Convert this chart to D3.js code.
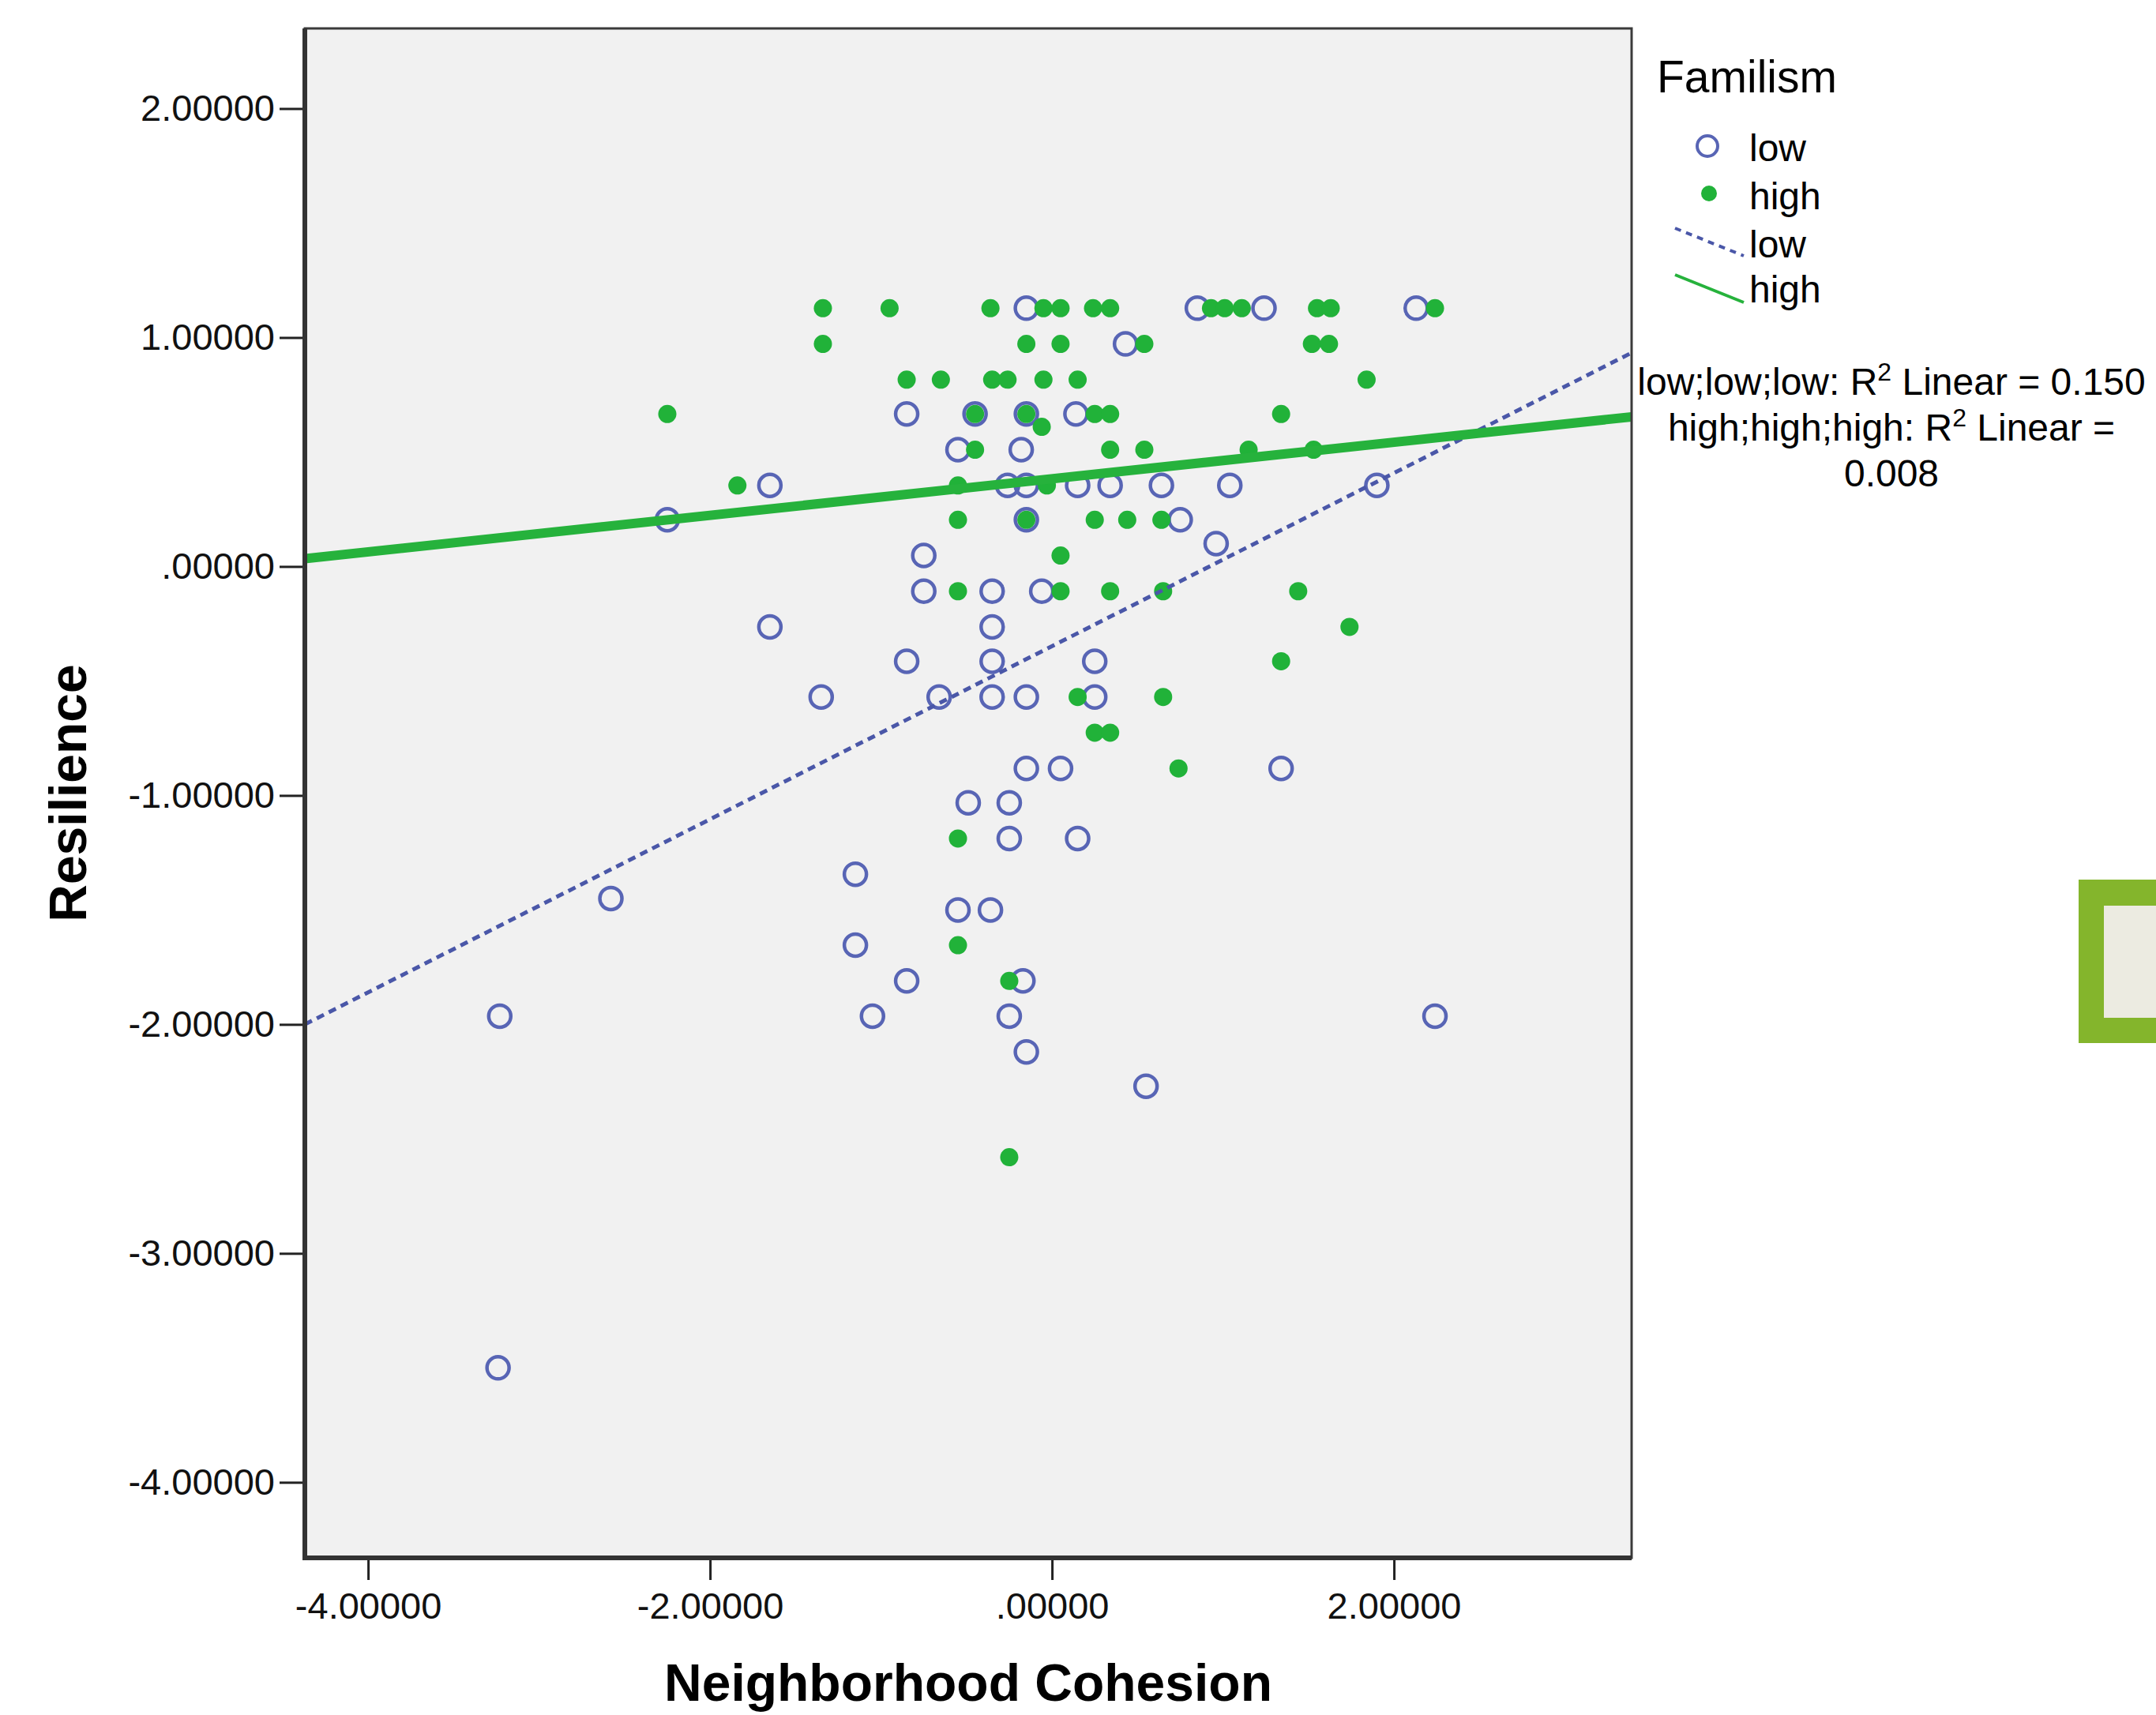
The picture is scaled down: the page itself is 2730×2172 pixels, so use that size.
<!DOCTYPE html>
<html>
<head>
<meta charset="utf-8">
<script src="https://cdn.jsdelivr.net/npm/d3@7"></script>
<style>
  body { margin: 0; background: #fff; }
  text { font-family: "Liberation Sans", Arial, sans-serif; }
</style>
</head>
<body>
<svg id="chart" width="2730" height="2172"></svg>
<script>
// axis ticks
const xTicks = [-4, -2, 0, 2];
const yTicks = [2, 1, 0, -1, -2, -3, -4];

// Familism = low  [cohesion, resilience]
const lowPoints = [
    [-0.15, 1.128], [0.85, 1.128], [1.24, 1.128], [2.13, 1.128],
    [0.43, 0.972],
    [-0.85, 0.666], [-0.45, 0.666], [-0.15, 0.666], [0.14, 0.666],
    [-0.55, 0.51], [-0.18, 0.51],
    [-1.65, 0.354], [-0.26, 0.354], [-0.15, 0.354], [0.15, 0.354], [0.34, 0.354], [0.64, 0.354], [1.04, 0.354], [1.90, 0.354],
    [-2.25, 0.204], [-0.15, 0.204], [0.75, 0.204],
    [0.96, 0.10],
    [-0.75, 0.048],
    [-0.75, -0.108], [-0.35, -0.108], [-0.06, -0.108],
    [-1.65, -0.264], [-0.35, -0.264],
    [-0.85, -0.414], [-0.35, -0.414], [0.25, -0.414],
    [-1.35, -0.57], [-0.66, -0.57], [-0.35, -0.57], [-0.15, -0.57], [0.25, -0.57],
    [-0.15, -0.882], [0.05, -0.882], [1.34, -0.882],
    [-0.49, -1.032], [-0.25, -1.032],
    [-0.25, -1.188], [0.15, -1.188],
    [-1.15, -1.344],
    [-2.58, -1.45],
    [-0.55, -1.5], [-0.36, -1.5],
    [-1.15, -1.654],
    [-0.85, -1.81], [-0.17, -1.81],
    [-3.23, -1.964], [-1.05, -1.964], [-0.25, -1.964], [2.24, -1.964],
    [-0.15, -2.12],
    [0.55, -2.27],
    [-3.24, -3.50]
];

// Familism = high
const highPoints = [
    [-1.34, 1.128], [-0.95, 1.128], [-0.36, 1.128], [-0.05, 1.128], [0.05, 1.128], [0.24, 1.128], [0.34, 1.128],
    [0.93, 1.128], [1.01, 1.128], [1.11, 1.128], [1.55, 1.128], [1.63, 1.128], [2.24, 1.128],
    [-1.34, 0.972], [-0.15, 0.972], [0.05, 0.972], [0.54, 0.972], [1.52, 0.972], [1.62, 0.972],
    [-0.85, 0.816], [-0.65, 0.816], [-0.35, 0.816], [-0.26, 0.816], [-0.05, 0.816], [0.15, 0.816], [1.84, 0.816],
    [-2.25, 0.666], [-0.45, 0.666], [-0.15, 0.666], [0.25, 0.666], [0.34, 0.666], [1.34, 0.666],
    [-0.06, 0.61],
    [-0.45, 0.51], [0.34, 0.51], [0.54, 0.51], [1.15, 0.51], [1.53, 0.51],
    [-1.84, 0.354], [-0.55, 0.354], [-0.03, 0.354],
    [-0.55, 0.204], [-0.15, 0.204], [0.25, 0.204], [0.44, 0.204], [0.64, 0.204],
    [0.05, 0.048],
    [-0.55, -0.108], [0.05, -0.108], [0.34, -0.108], [0.65, -0.108], [1.44, -0.108],
    [1.74, -0.264],
    [1.34, -0.414],
    [0.15, -0.57], [0.65, -0.57],
    [0.25, -0.726], [0.34, -0.726],
    [0.74, -0.882],
    [-0.55, -1.188],
    [-0.55, -1.654],
    [-0.25, -1.81],
    [-0.25, -2.58]
];

// linear fit lines [intercept, slope]
const lowFit = [-0.348, 0.378];
const highFit = [0.383, 0.0798];

const r2Text = [
    ["low;low;low: R", "2", " Linear = 0.150"],
    ["high;high;high: R", "2", " Linear ="],
    ["0.008", "", ""]
];

const blue = "#5865b5";
const green = "#21b239";

const svg = d3.select("#chart");
const plotLeft = 386, plotRight = 2066, plotTop = 36, plotBottom = 1973;

const x = d3.scaleLinear().domain([-4.37, 3.39]).range([plotLeft, plotRight]);
const y = d3.scaleLinear().domain([-4.33, 2.35]).range([plotBottom, plotTop]);

const fmt = d => d.toFixed(5).replace(/^(-?)0\./, "$1.");

svg.append("defs").append("clipPath").attr("id", "plotclip")
    .append("rect").attr("x", plotLeft).attr("y", plotTop)
    .attr("width", plotRight - plotLeft).attr("height", plotBottom - plotTop);

// plot background
svg.append("rect")
    .attr("x", plotLeft).attr("y", plotTop)
    .attr("width", plotRight - plotLeft).attr("height", plotBottom - plotTop)
    .attr("fill", "#f1f1f1");

// axes
const yAxis = svg.append("g")
    .attr("transform", `translate(${plotLeft},0)`)
    .call(d3.axisLeft(y).tickValues(yTicks).tickSize(32).tickPadding(6).tickFormat(fmt));
const xAxis = svg.append("g")
    .attr("transform", `translate(0,${plotBottom})`)
    .call(d3.axisBottom(x).tickValues(xTicks).tickSize(28).tickPadding(16).tickFormat(fmt));

[xAxis, yAxis].forEach(a => {
    a.select(".domain").remove();
    a.selectAll(".tick line").attr("stroke", "#222").attr("stroke-width", 3);
    a.selectAll(".tick text").attr("font-size", 47).attr("fill", "#111")
        .style("font-family", "'Liberation Sans', Arial, sans-serif");
});

// points
const plot = svg.append("g").attr("clip-path", "url(#plotclip)");

plot.append("g").selectAll("circle")
    .data(lowPoints)
    .join("circle")
    .attr("cx", d => x(d[0]))
    .attr("cy", d => y(d[1]))
    .attr("r", 14)
    .attr("fill", "none")
    .attr("stroke", blue)
    .attr("stroke-width", 4.5);

plot.append("g").selectAll("circle")
    .data(highPoints)
    .join("circle")
    .attr("cx", d => x(d[0]))
    .attr("cy", d => y(d[1]))
    .attr("r", 11.5)
    .attr("fill", green);

// fit lines
const [x0, x1] = x.domain();
plot.append("line")
    .attr("x1", x(x0)).attr("y1", y(lowFit[0] + lowFit[1] * x0))
    .attr("x2", x(x1)).attr("y2", y(lowFit[0] + lowFit[1] * x1))
    .attr("stroke", "#4a57a8")
    .attr("stroke-width", 5)
    .attr("stroke-dasharray", "10,7");

plot.append("line")
    .attr("x1", x(x0)).attr("y1", y(highFit[0] + highFit[1] * x0))
    .attr("x2", x(x1)).attr("y2", y(highFit[0] + highFit[1] * x1))
    .attr("stroke", "#26b23c")
    .attr("stroke-width", 12);

// frame
svg.append("rect")
    .attr("x", plotLeft).attr("y", plotTop)
    .attr("width", plotRight - plotLeft).attr("height", plotBottom - plotTop)
    .attr("fill", "none").attr("stroke", "#3a3a3a").attr("stroke-width", 3);
svg.append("path")
    .attr("d", `M${plotLeft},${plotTop}V${plotBottom}H${plotRight}`)
    .attr("fill", "none").attr("stroke", "#333").attr("stroke-width", 6);

// axis titles
svg.append("text")
    .attr("x", (plotLeft + plotRight) / 2).attr("y", 2154)
    .attr("text-anchor", "middle")
    .attr("font-size", 66).attr("font-weight", "bold")
    .text("Neighborhood Cohesion");

svg.append("text")
    .attr("transform", `translate(109,${(plotTop + plotBottom) / 2}) rotate(-90)`)
    .attr("text-anchor", "middle")
    .attr("font-size", 66).attr("font-weight", "bold")
    .text("Resilience");

// legend
const legend = svg.append("g");
legend.append("text").attr("x", 2098).attr("y", 117).attr("font-size", 57).text("Familism");
legend.append("circle").attr("cx", 2162).attr("cy", 185).attr("r", 13)
    .attr("fill", "none").attr("stroke", blue).attr("stroke-width", 4);
legend.append("circle").attr("cx", 2164).attr("cy", 245).attr("r", 10).attr("fill", green);
legend.append("line").attr("x1", 2121).attr("y1", 289).attr("x2", 2208).attr("y2", 324)
    .attr("stroke", "#4a57a8").attr("stroke-width", 4).attr("stroke-dasharray", "8,7");
legend.append("line").attr("x1", 2121).attr("y1", 348).attr("x2", 2208).attr("y2", 383)
    .attr("stroke", "#26b23c").attr("stroke-width", 4);
[["low", 204], ["high", 265], ["low", 326], ["high", 383]].forEach(([t, yy]) => {
    legend.append("text").attr("x", 2215).attr("y", yy).attr("font-size", 48).text(t);
});

// R squared notes
r2Text.forEach((parts, i) => {
    const t = svg.append("text")
        .attr("x", 2395).attr("y", [500, 558, 616][i])
        .attr("text-anchor", "middle").attr("font-size", 48);
    t.append("tspan").text(parts[0]);
    if (parts[1]) {
        t.append("tspan").attr("font-size", 32).attr("dy", -18).text(parts[1]);
        t.append("tspan").attr("dy", 18).text(parts[2]);
    }
});

// green box at right edge
svg.append("rect").attr("x", 2632).attr("y", 1114).attr("width", 120).attr("height", 207).attr("fill", "#84b52c");
svg.append("rect").attr("x", 2664).attr("y", 1147).attr("width", 90).attr("height", 142).attr("fill", "#ecebe1");
</script>
</body>
</html>
